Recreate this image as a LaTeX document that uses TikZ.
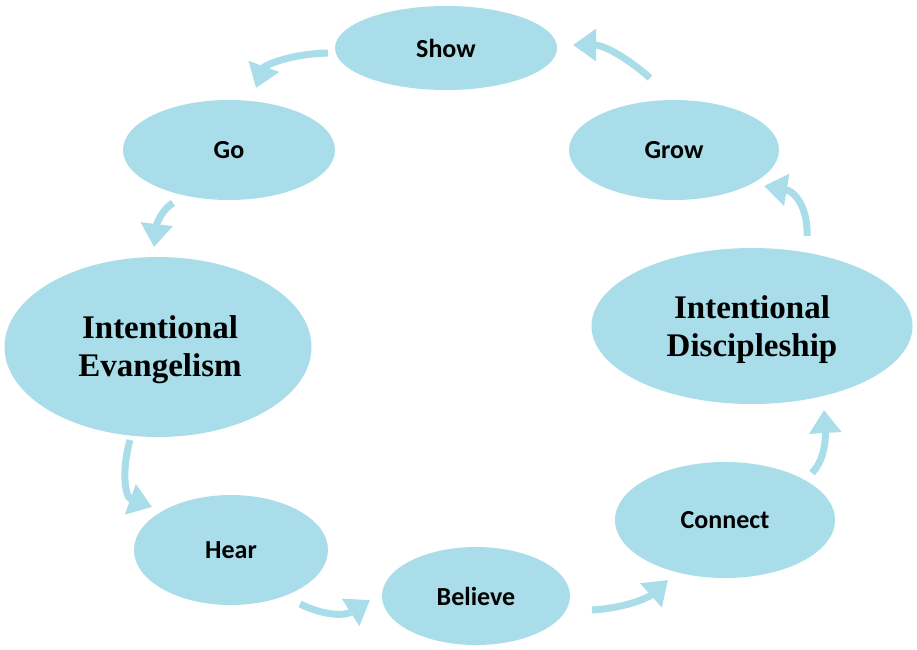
\documentclass[tikz,border=0pt]{standalone}
\usepackage{fontspec}
\setmainfont{Liberation Serif}
\newfontfamily\lblfont{Carlito}
\usetikzlibrary{arrows.meta,calc,shapes.geometric}
\definecolor{cyc}{HTML}{A8DDE9}
\tikzset{
  bub/.style={ellipse, fill=cyc, inner sep=0pt, text=black, align=center},
  small/.style={bub, font=\lblfont\bfseries\fontsize{26}{30}\selectfont},
  big/.style={bub, font=\bfseries\fontsize{33}{38}\selectfont},
  arr/.style={draw=cyc, line width=7pt, -{Triangle[width=31pt,length=23pt]}},
}
\begin{document}
\begin{tikzpicture}[x=1pt,y=-1pt]
\useasboundingbox (0,0) rectangle (917,649);
\node[small, minimum width=222pt, minimum height=84pt] (show) at (446,48) {Show};
\node[small, minimum width=212pt, minimum height=100pt] (go) at (229,150) {Go};
\node[small, minimum width=210pt, minimum height=100pt] (grow) at (674,150) {Grow};
\node[big, minimum width=307pt, minimum height=180pt] (evan) at (158,347) {};
\node[big, minimum width=321pt, minimum height=156pt] (disc) at (752,326) {};
\node[big, align=center, fill=none, inner sep=0pt] (evant) at ($(evan)+(2,3)$) {Intentional\\Evangelism};
\node[big, align=center, fill=none, inner sep=0pt] (disct) at ($(disc)+(0,4)$) {Intentional\\Discipleship};
\node[small, minimum width=194pt, minimum height=110pt] (hear) at (231,550) {Hear};
\node[small, minimum width=188pt, minimum height=98pt] (believe) at (476,596) {Believe};
\node[small, minimum width=220pt, minimum height=116pt] (connect) at (725,520) {Connect};

\coordinate (a1s) at ($(show)+(-118,5)$);  \coordinate (a1e) at ($(go)+(27,-62)$);
\coordinate (a2s) at ($(go)+(-56,53)$);    \coordinate (a2e) at ($(evan)+(-4,-100)$);
\coordinate (a3s) at ($(evan)+(-28,93)$);  \coordinate (a3e) at ($(hear)+(-79,-43)$);
\coordinate (a4s) at ($(hear)+(69,54)$);   \coordinate (a4e) at ($(believe)+(-106,4)$);
\coordinate (a5s) at ($(believe)+(116,14)$); \coordinate (a5e) at ($(connect)+(-57,60)$);
\coordinate (a6s) at ($(connect)+(87,-47)$); \coordinate (a6e) at ($(disc)+(72,84)$);
\coordinate (a7s) at ($(disc)+(55,-90)$);  \coordinate (a7e) at ($(grow)+(90,36)$);
\coordinate (a8s) at ($(grow)+(-24,-72)$); \coordinate (a8e) at ($(show)+(127,-3)$);

\draw[arr] (a1s) .. controls ($(a1s)+(-40,1)$) and ($(a1e)+(8,-22)$) .. (a1e);
\draw[arr] (a2s) .. controls ($(a2s)+(-10,6)$) and ($(a2e)+(3,-25)$) .. (a2e);
\draw[arr] (a3s) .. controls ($(a3s)+(-8,28)$) and ($(a3e)+(-28,-10)$) .. (a3e);
\draw[arr] (a4s) .. controls ($(a4s)+(25,12)$) and ($(a4e)+(-25,16)$) .. (a4e);
\draw[arr] (a5s) .. controls ($(a5s)+(33,-2)$) and ($(a5e)+(-20,18)$) .. (a5e);
\draw[arr] (a6s) .. controls ($(a6s)+(10,-10)$) and ($(a6e)+(2,35)$) .. (a6e);
\draw[arr] (a7s) .. controls ($(a7s)+(1,-30)$) and ($(a7e)+(30,5)$) .. (a7e);
\draw[arr] (a8s) .. controls ($(a8s)+(-25,-22)$) and ($(a8e)+(30,0)$) .. (a8e);
\end{tikzpicture}
\end{document}
